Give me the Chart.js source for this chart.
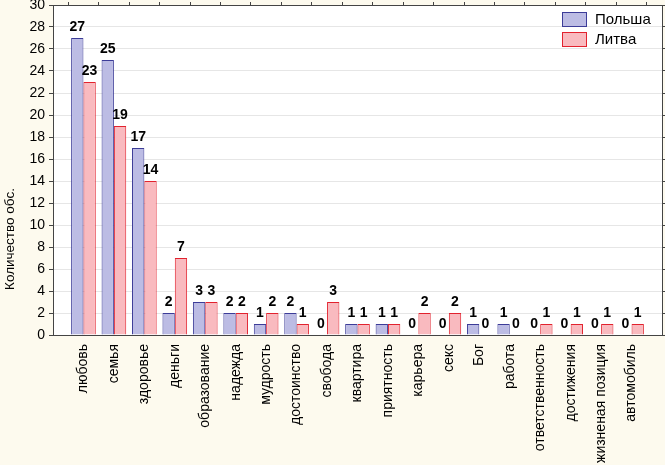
<!DOCTYPE html>
<html>
<head>
<meta charset="utf-8">
<script src="https://cdn.jsdelivr.net/npm/chart.js@4"></script>
<style>
  html, body { margin: 0; padding: 0; background: #fdfaee; }
  #wrap { width: 665px; height: 465px; position: relative; }
</style>
</head>
<body>
<div id="wrap"><canvas id="chart"></canvas></div>
<script>
// values
const categories = ['любовь', 'семья', 'здоровье', 'деньги', 'образование', 'надежда', 'мудрость',
  'достоинство', 'свобода', 'квартира', 'приятность', 'карьера', 'секс', 'Бог', 'работа',
  'ответственность', 'достижения', 'жизненая позиция', 'автомобиль'];
const poland = [27, 25, 17, 2, 3, 2, 1, 2, 0, 1, 1, 0, 0, 1, 1, 0, 0, 0, 0];
const lithuania = [23, 19, 14, 7, 3, 2, 2, 1, 3, 1, 1, 2, 2, 0, 0, 1, 1, 1, 1];
const seriesNames = ['Польша', 'Литва'];
const yTicks = { min: 0, max: 30, step: 2 };
const yTitle = 'Количество обс.';

const FONT = "'Liberation Sans', Arial, sans-serif";

// white plot area on cream background
const plotBg = {
  id: 'plotBg',
  beforeDraw(chart) {
    const { ctx, chartArea: a } = chart;
    ctx.save();
    ctx.fillStyle = '#fdfaee';
    ctx.fillRect(0, 0, chart.width, chart.height);
    ctx.fillStyle = '#ffffff';
    ctx.fillRect(a.left, a.top, a.right - a.left, a.bottom - a.top);
    ctx.restore();
  }
};

// bold numbers above bars
const valueLabels = {
  id: 'valueLabels',
  afterDatasetsDraw(chart) {
    const ctx = chart.ctx;
    ctx.save();
    ctx.font = 'bold 14px ' + FONT;
    ctx.fillStyle = '#000';
    ctx.textAlign = 'center';
    ctx.textBaseline = 'alphabetic';
    chart.data.datasets.forEach((ds, di) => {
      chart.getDatasetMeta(di).data.forEach((bar, i) => {
        ctx.fillText(String(ds.data[i].y), bar.x, bar.y - 7);
      });
    });
    ctx.restore();
  }
};

// y title sits low, not centred on the axis
const sideTitle = {
  id: 'sideTitle',
  afterDraw(chart) {
    const ctx = chart.ctx;
    ctx.save();
    ctx.translate(10, 239);
    ctx.rotate(-Math.PI / 2);
    ctx.font = '13.5px ' + FONT;
    ctx.fillStyle = '#000';
    ctx.textAlign = 'center';
    ctx.textBaseline = 'middle';
    ctx.fillText(yTitle, 0, 0);
    ctx.restore();
  }
};

// legend inside plot, top right
const innerLegend = {
  id: 'innerLegend',
  afterDraw(chart) {
    const ctx = chart.ctx;
    const a = chart.chartArea;
    ctx.save();
    ctx.font = '15px ' + FONT;
    ctx.textBaseline = 'middle';
    chart.data.datasets.forEach((ds, i) => {
      const x = a.right - 100, y = a.top + 7 + i * 20;
      ctx.fillStyle = ds.backgroundColor;
      ctx.fillRect(x, y, 25, 15);
      ctx.strokeStyle = ds.borderColor;
      ctx.lineWidth = 1;
      ctx.strokeRect(x + 0.5, y + 0.5, 24, 14);
      ctx.fillStyle = '#000';
      ctx.fillText(ds.label, x + 33, y + 8);
    });
    ctx.restore();
  }
};

const toPoints = arr => arr.map((v, i) => ({ x: i, y: v }));

new Chart(document.getElementById('chart'), {
  type: 'bar',
  data: {
    datasets: [
      {
        label: seriesNames[0],
        data: toPoints(poland),
        backgroundColor: '#bcbce4',
        borderColor: '#3c3c98',
        borderWidth: 1,
        categoryPercentage: 0.81,
        barPercentage: 1,
      },
      {
        label: seriesNames[1],
        data: toPoints(lithuania),
        backgroundColor: '#f9babf',
        borderColor: '#e2222e',
        borderWidth: 1,
        categoryPercentage: 0.81,
        barPercentage: 1,
      }
    ]
  },
  options: {
    responsive: true,
    maintainAspectRatio: false,
    animation: false,
    layout: { padding: 0 },
    scales: {
      x: {
        type: 'linear',
        position: 'bottom',
        offset: false,
        min: -1,
        max: categories.length,
        grid: { display: false },
        border: { display: true, color: '#444', width: 1 },
        ticks: {
          stepSize: 1,
          autoSkip: false,
          minRotation: 90,
          maxRotation: 90,
          padding: 1,
          color: '#000',
          font: { family: FONT, size: 14 },
          callback: v => categories[v] ?? '',
        },
        afterFit(scale) {
          scale.height = 130;
          scale.paddingLeft = 0;
          scale.paddingRight = 0;
        },
      },
      xTop: {
        type: 'linear',
        position: 'top',
        offset: false,
        min: -1,
        max: categories.length,
        grid: { drawOnChartArea: false, tickLength: 3, tickColor: '#444' },
        border: { display: true, color: '#444', width: 1 },
        ticks: { stepSize: 1, display: false },
        afterFit(scale) { scale.height = 5; },
      },
      y: {
        min: yTicks.min,
        max: yTicks.max,
        grid: { color: '#e6e6e6', tickLength: 4, tickColor: '#444' },
        border: { display: true, color: '#444', width: 1 },
        ticks: {
          stepSize: yTicks.step,
          padding: 4,
          color: '#000',
          font: { family: FONT, size: 14 },
        },
        afterFit(scale) {
          scale.width = 53;
          scale.paddingTop = 0;
          scale.paddingBottom = 0;
        },
      },
      yRight: {
        position: 'right',
        min: yTicks.min,
        max: yTicks.max,
        grid: { drawOnChartArea: false, tickLength: 3, tickColor: '#444' },
        border: { display: true, color: '#444', width: 1 },
        ticks: { stepSize: yTicks.step, display: false },
        afterFit(scale) { scale.width = 3; },
      },
    },
    plugins: {
      legend: { display: false },
      tooltip: { enabled: false },
    }
  },
  plugins: [plotBg, valueLabels, sideTitle, innerLegend]
});
</script>
</body>
</html>
